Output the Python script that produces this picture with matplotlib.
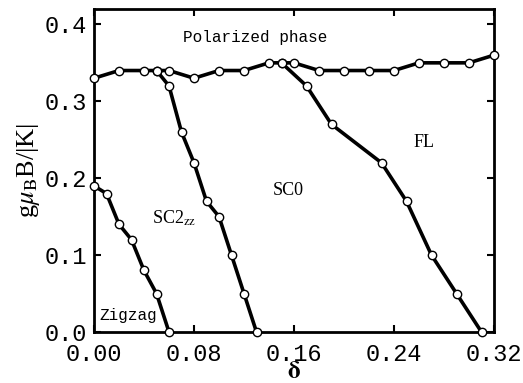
import matplotlib
matplotlib.use("Agg")
import matplotlib.pyplot as plt
from matplotlib.ticker import FixedLocator

plt.rcParams['mathtext.fontset'] = 'stix'

# Polarized phase boundary
top_x = [0.00, 0.02, 0.04, 0.05, 0.06, 0.08, 0.10, 0.12, 0.14, 0.15, 0.16,
         0.18, 0.20, 0.22, 0.24, 0.26, 0.28, 0.30, 0.32]
top_y = [0.33, 0.34, 0.34, 0.34, 0.34, 0.33, 0.34, 0.34, 0.35, 0.35, 0.35,
         0.34, 0.34, 0.34, 0.34, 0.35, 0.35, 0.35, 0.36]

# Zigzag / SC2zz boundary
zz_x = [0.00, 0.01, 0.02, 0.03, 0.04, 0.05, 0.06]
zz_y = [0.19, 0.18, 0.14, 0.12, 0.08, 0.05, 0.00]

# SC2zz / SC0 boundary
sc2_x = [0.05, 0.06, 0.07, 0.08, 0.09, 0.10, 0.11, 0.12, 0.13]
sc2_y = [0.34, 0.32, 0.26, 0.22, 0.17, 0.15, 0.10, 0.05, 0.00]

# SC0 / FL boundary
fl_x = [0.15, 0.17, 0.19, 0.23, 0.25, 0.27, 0.29, 0.31]
fl_y = [0.35, 0.32, 0.27, 0.22, 0.17, 0.10, 0.05, 0.00]

xticks = [0.00, 0.08, 0.16, 0.24, 0.32]
xticklabels = ['0.00', '0.08', '0.16', '0.24', '0.32']
yticks = [0.0, 0.1, 0.2, 0.3, 0.4]
yticklabels = ['0.0', '0.1', '0.2', '0.3', '0.4']

fig = plt.figure(figsize=(5.23, 3.83), dpi=100)
ax = fig.add_axes([94/523, 1-332/383, 400/523, 323/383])

style = dict(color='black', lw=2.6, marker='o', markersize=6,
             markerfacecolor='white', markeredgecolor='black', markeredgewidth=1.0,
             clip_on=False, zorder=3)
for xs, ys in [(top_x, top_y), (zz_x, zz_y), (sc2_x, sc2_y), (fl_x, fl_y)]:
    ax.plot(xs, ys, **style)

ax.set_xlim(0, 0.32)
ax.set_ylim(0, 0.42)
ax.xaxis.set_major_locator(FixedLocator(xticks))
ax.yaxis.set_major_locator(FixedLocator(yticks))
ax.set_xticklabels(xticklabels, family='Liberation Mono', fontsize=17)
ax.set_yticklabels(yticklabels, family='Liberation Mono', fontsize=17)
ax.tick_params(direction='in', length=5, width=1.5, top=True, right=True)
ax.tick_params(axis='x', pad=8)
ax.tick_params(axis='y', pad=5)
for s in ax.spines.values():
    s.set_linewidth(2)

ax.set_xlabel(r'$\mathbf{\delta}$', fontsize=18, labelpad=-5)
ax.set_ylabel(r'g$\mu_{\rm B}$B/|K|', family='Liberation Serif', fontsize=19, labelpad=2)

ax.text(0.129, 0.383, 'Polarized phase', family='Liberation Mono', fontsize=11.5,
        ha='center', va='center')
ax.text(0.264, 0.247, 'FL', family='Liberation Serif', fontsize=13, ha='center', va='center')
ax.text(0.155, 0.184, 'SC0', family='Liberation Serif', fontsize=13, ha='center', va='center')
ax.text(0.0465, 0.148, r'SC2$_{\rm zz}$', family='Liberation Serif', fontsize=13,
        ha='left', va='center')
ax.text(0.027, 0.022, 'Zigzag', family='Liberation Mono', fontsize=11.5,
        ha='center', va='center')

fig.savefig('out.png', dpi=100)
